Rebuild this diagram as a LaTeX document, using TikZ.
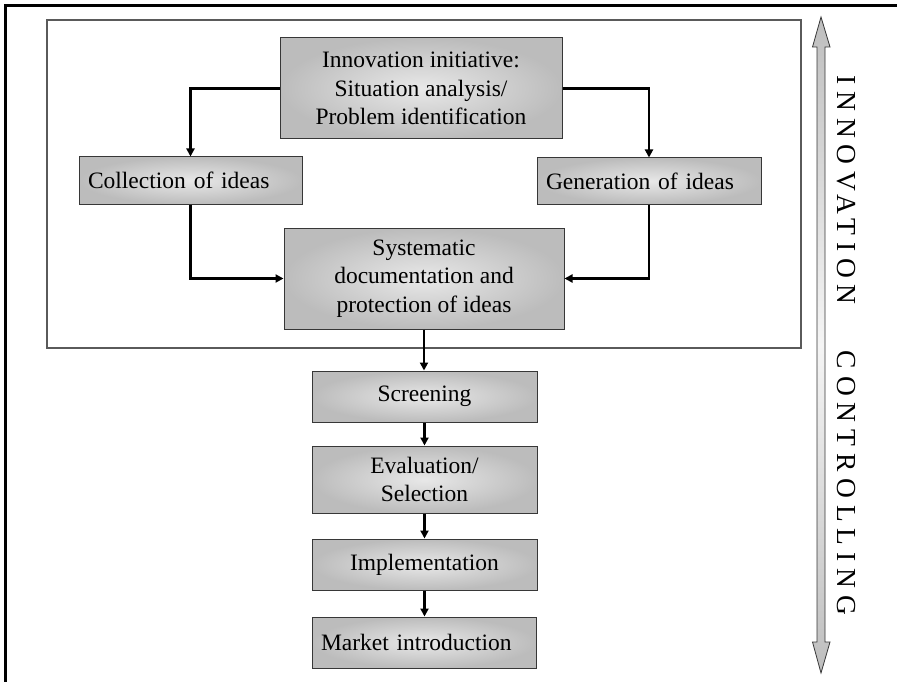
\documentclass[tikz,border=0pt]{standalone}
\usepackage{fontspec}
\setmainfont{Liberation Serif}
\usetikzlibrary{arrows.meta}

\definecolor{boxedge}{RGB}{188,188,188}
\definecolor{boxmid}{RGB}{232,232,232}
\definecolor{boxline}{RGB}{55,55,55}
\definecolor{framegray}{RGB}{90,90,90}
\definecolor{shaftend}{RGB}{190,190,190}
\definecolor{shaftmid}{RGB}{245,245,245}

\newcommand{\boxfont}{\fontsize{23.5}{28.5}\selectfont}
\newcommand{\sidefont}{\fontsize{27.5}{30}\selectfont\addfontfeature{LetterSpace=25}}

\tikzset{
  stage/.style={draw=boxline, line width=1pt, shading=radial,
    inner color=boxmid, outer color=boxedge, font=\boxfont,
    align=center, inner sep=0pt},
  leftstage/.style={stage, align=left, inner xsep=9pt, inner ysep=0pt},
  flow/.style={line width=2.5pt, -{Triangle[length=8pt,width=8pt]}},
  sidelabel/.style={font=\sidefont, rotate=-90, inner sep=0pt},
}

\begin{document}
\begin{tikzpicture}[x=1pt, y=-1pt]
\useasboundingbox (0,0) rectangle (897,682);

% outer frame (open at right and bottom)
\draw[line width=2.5pt] (897,5.5) -- (5.5,5.5) -- (5.5,682);

% idea phase frame
\draw[framegray, line width=1.2pt] (47,20) rectangle (801,348);

% process stages
\node[stage, minimum width=282pt, minimum height=101pt] (init) at (421,88.5)
  {Innovation initiative:\\Situation analysis/\\Problem identification};
\node[leftstage, text width=205pt, minimum height=47pt] (coll) at (190.5,180.5)
  {Collection of ideas};
\node[leftstage, text width=206pt, minimum height=46pt] (gen) at (649,181)
  {Generation of ideas};
\node[stage, minimum width=280pt, minimum height=101pt] (syst) at (424,278.5)
  {Systematic\\documentation and\\protection of ideas};
\node[stage, minimum width=225pt, minimum height=51pt] (scr) at (424.5,396.5)
  {Screening};
\node[stage, minimum width=225pt, minimum height=67pt] (eval) at (424.5,479.5)
  {Evaluation/\\Selection};
\node[stage, minimum width=225pt, minimum height=51pt] (impl) at (424.5,564.5)
  {Implementation};
\node[leftstage, text width=206pt, minimum height=51pt] (mkt) at (424,642.5)
  {Market introduction};

% connectors
\draw[flow] (init.west) -| (coll.north);
\draw[flow] (init.east) -| (gen.north);
\draw[flow] (coll.south) |- (syst.west);
\draw[flow] (gen.south) |- (syst.east);
\draw[flow] (syst.south) -- (syst.south |- scr.north);
\draw[flow] (scr.south) -- (scr.south |- eval.north);
\draw[flow] (eval.south) -- (eval.south |- impl.north);
\draw[flow] (impl.south) -- (impl.south |- mkt.north);

% controlling double arrow
\draw[boxline, line width=0.8pt, top color=shaftend, bottom color=shaftend, middle color=shaftmid]
  (821,17) -- (830,47) -- (825,47) -- (825,642) -- (830,642) -- (821,673)
  -- (812.5,642) -- (817,642) -- (817,47) -- (812.5,47) -- cycle;

\node[sidelabel] (innov) at (846,190) {INNOVATION};
\node[sidelabel] (ctrl) at (846,483) {CONTROLLING};
\end{tikzpicture}
\end{document}
